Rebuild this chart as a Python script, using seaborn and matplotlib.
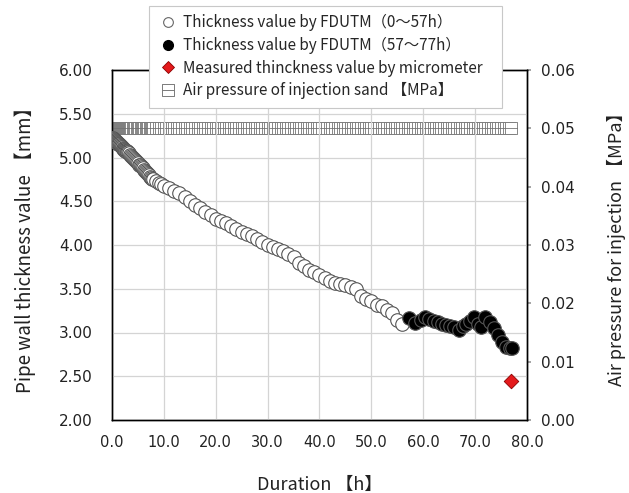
import numpy as np
import pandas as pd
import matplotlib
matplotlib.use("Agg")
import matplotlib.pyplot as plt
from matplotlib.path import Path
from matplotlib.lines import Line2D
import seaborn as sns

# ---------------- data ----------------
t_open = [0.0, 0.1, 0.2, 0.3, 0.4, 0.5, 0.6, 0.7, 0.8, 0.9, 1.0, 1.1, 1.2, 1.3, 1.4, 1.5,
          1.6, 1.7, 1.8, 1.9, 2.0, 2.1, 2.2, 2.3, 2.4, 2.5, 2.6, 2.7, 2.8, 2.9, 3.0,
          3.2, 3.4, 3.6, 3.8, 4.0, 4.2, 4.4, 4.6, 4.8, 5.0, 5.2, 5.4, 5.6, 5.8, 6.0,
          6.2, 6.4, 6.6, 6.8, 7.0, 7.2, 7.4, 7.6, 7.8, 8.0, 8.5, 9.0, 9.5,
          10.0, 11.0, 12.0, 13.0, 14.0, 15.0, 16.0, 17.0, 18.0, 19.0, 20.0, 21.0, 22.0,
          23.0, 24.0, 25.0, 26.0, 27.0, 28.0, 29.0, 30.0, 31.0, 32.0, 33.0, 34.0, 35.0,
          36.0, 37.0, 38.0, 39.0, 40.0, 41.0, 42.0, 43.0, 44.0, 45.0, 46.0, 47.0, 48.0,
          49.0, 50.0, 51.0, 52.0, 53.0, 54.0, 55.0, 56.0]
v_open = [5.22, 5.22, 5.21, 5.21, 5.20, 5.20, 5.19, 5.19, 5.18, 5.18, 5.17, 5.17, 5.16,
          5.16, 5.15, 5.14, 5.14, 5.13, 5.13, 5.12, 5.12, 5.11, 5.10, 5.10, 5.09, 5.09,
          5.08, 5.07, 5.07, 5.06, 5.06,
          5.05, 5.03, 5.02, 5.01, 5.00, 4.98, 4.97, 4.96, 4.95, 4.94, 4.92, 4.91, 4.90,
          4.89, 4.88, 4.86, 4.85, 4.84, 4.82, 4.81, 4.80, 4.78, 4.77, 4.76, 4.75,
          4.73, 4.71, 4.70,
          4.68, 4.65, 4.62, 4.59, 4.55, 4.50, 4.46, 4.42, 4.38, 4.34,
          4.30, 4.27, 4.25, 4.22, 4.18, 4.15, 4.13, 4.10, 4.07, 4.03, 4.00, 3.98, 3.96, 3.93,
          3.90, 3.86, 3.80, 3.76, 3.72, 3.69, 3.66, 3.62, 3.59, 3.57, 3.56, 3.54, 3.52, 3.50,
          3.42, 3.38, 3.36, 3.32, 3.30, 3.26, 3.22, 3.14, 3.10]

t_black = [57.3, 58.5, 59.5, 60.3, 61.2, 62.0, 62.8, 63.6, 64.4, 65.2, 66.0, 66.8, 67.6,
           68.3, 69.0, 69.8, 70.5, 71.2, 72.0, 72.8, 73.6, 74.4, 75.2, 76.0, 76.7, 77.2]
v_black = [3.17, 3.11, 3.14, 3.18, 3.15, 3.13, 3.12, 3.10, 3.09, 3.08, 3.06, 3.03, 3.08,
           3.10, 3.13, 3.18, 3.10, 3.06, 3.18, 3.12, 3.05, 2.97, 2.89, 2.84, 2.82, 2.82]

t_micro = [77.0]
v_micro = [2.45]

t_press = [0.0, 0.1, 0.2, 0.3, 0.4, 0.5, 0.55, 0.6, 0.65, 0.7, 0.75, 0.8, 0.85, 0.9, 0.95,
           1.0, 1.05, 1.1, 1.15, 1.2, 1.25, 1.3, 1.35, 1.4, 1.45, 1.5, 1.55, 1.6, 1.65,
           1.7, 1.75, 1.8, 1.85, 1.9, 1.95, 2.0, 2.05, 2.1, 2.15, 2.2, 2.25, 2.3, 2.35,
           2.4, 2.45, 2.5, 2.55, 2.6, 2.65, 2.7, 2.75, 2.8, 2.85, 2.9, 2.95, 3.0, 3.05,
           3.1, 3.15, 3.2, 3.25, 3.3, 3.35, 3.4, 3.45, 3.5,
           3.75, 4.0, 4.25, 4.5, 4.75, 5.0, 5.25, 5.5, 5.75, 6.0, 6.25,
           6.5, 6.75, 7.0, 7.25, 7.5, 7.75, 8.0, 8.5, 9.0, 9.5, 10.0, 10.5, 11.0, 11.5, 12.0,
           12.5, 13.0, 13.5, 14.0, 14.5, 15.0, 15.5, 16.0, 16.5, 17.0, 17.5, 18.0, 18.5, 19.0,
           19.5, 20.0, 20.5, 21.0, 21.5, 22.0, 22.5, 23.0, 23.5, 24.0, 24.5, 25.0, 25.5, 26.0,
           26.5, 27.0, 27.5, 28.0, 28.5, 29.0, 29.5, 30.0, 30.5, 31.0, 31.5, 32.0, 32.5, 33.0,
           33.5, 34.0, 34.5, 35.0, 35.5, 36.0, 36.5, 37.0, 37.5, 38.0, 38.5, 39.0, 39.5, 40.0,
           40.5, 41.0, 41.5, 42.0, 42.5, 43.0, 43.5, 44.0, 44.5, 45.0, 45.5, 46.0, 46.5, 47.0,
           47.5, 48.0, 48.5, 49.0, 49.5, 50.0, 50.5, 51.0, 51.5, 52.0, 52.5, 53.0, 53.5, 54.0,
           54.5, 55.0, 55.5, 56.0, 56.5, 57.0, 57.5, 58.0, 58.5, 59.0, 59.5, 60.0, 60.5, 61.0,
           61.5, 62.0, 62.5, 63.0, 63.5, 64.0, 64.5, 65.0, 65.5, 66.0, 66.5, 67.0, 67.5, 68.0,
           68.5, 69.0, 69.5, 70.0, 70.5, 71.0, 71.5, 72.0, 72.5, 73.0, 73.5, 74.0, 74.5, 75.0,
           75.5, 76.0, 76.5, 77.0]
p_value = 0.05
v_press = [p_value] * len(t_press)

x_ticks = [0, 10, 20, 30, 40, 50, 60, 70, 80]
y_ticks = [2.0, 2.5, 3.0, 3.5, 4.0, 4.5, 5.0, 5.5, 6.0]
y2_ticks = [0.0, 0.01, 0.02, 0.03, 0.04, 0.05, 0.06]

lab_open = "Thickness value by FDUTM（0～57h）"
lab_black = "Thickness value by FDUTM（57～77h）"
lab_micro = "Measured thinckness value by micrometer"
lab_press = "Air pressure of injection sand 【MPa】"

# ---------------- style ----------------
sns.set_theme(style="white")
plt.rcParams["font.family"] = ["Noto Sans CJK JP", "DejaVu Sans"]
plt.rcParams["axes.unicode_minus"] = False

df_open = pd.DataFrame({"t": t_open, "v": v_open})
df_black = pd.DataFrame({"t": t_black, "v": v_black})
df_micro = pd.DataFrame({"t": t_micro, "v": v_micro})
df_press = pd.DataFrame({"t": t_press, "p": v_press})

# square-with-bar marker
sq_path = Path([(-1, -1), (1, -1), (1, 1), (-1, 1), (-1, -1), (-1, 0), (1, 0)],
               [Path.MOVETO, Path.LINETO, Path.LINETO, Path.LINETO, Path.CLOSEPOLY,
                Path.MOVETO, Path.LINETO])

fig = plt.figure(figsize=(6.29, 4.93), dpi=100)
ax1 = fig.add_axes([112 / 629, 1 - 420 / 493, 415 / 629, 350 / 493])
ax2 = ax1.twinx()

# pressure (right axis)
sns.scatterplot(data=df_press, x="t", y="p", ax=ax2, marker=sq_path, s=85,
                facecolor="white", edgecolor="#747474", linewidth=0.6, legend=False,
                zorder=2)
ax2.set_ylim(0, 0.06)
ax2.set_yticks(y2_ticks)
ax2.set_yticklabels([f"{v:.2f}" for v in y2_ticks], family="DejaVu Sans")

# thickness (left axis)
sns.scatterplot(data=df_open, x="t", y="v", ax=ax1, marker="o", s=95,
                facecolor="white", edgecolor="#555555", linewidth=0.8, legend=False,
                zorder=3)
sns.scatterplot(data=df_black, x="t", y="v", ax=ax1, marker="o", s=95,
                facecolor="black", edgecolor="#555555", linewidth=0.8, legend=False,
                zorder=4)
sns.scatterplot(data=df_micro, x="t", y="v", ax=ax1, marker="D", s=55,
                facecolor="#e41a1c", edgecolor="#8a0000", linewidth=0.6, legend=False,
                zorder=5)

ax1.set_zorder(ax2.get_zorder() + 1)
ax1.patch.set_visible(False)

ax1.set_xlim(0, 80)
ax1.set_ylim(2, 6)
ax1.set_xticks(x_ticks)
ax1.set_xticklabels([f"{v:.1f}" for v in x_ticks], family="DejaVu Sans")
ax1.set_yticks(y_ticks)
ax1.set_yticklabels([f"{v:.2f}" for v in y_ticks], family="DejaVu Sans")
ax1.grid(True, color="#d4d4d4", linewidth=0.9)
ax1.set_axisbelow(True)

for ax in (ax1, ax2):
    for sp in ax.spines.values():
        sp.set_color("black")
        sp.set_linewidth(1.0)

ax1.tick_params(axis="y", length=0, labelsize=11, colors="#222222", pad=14)
ax1.tick_params(axis="x", length=0, labelsize=10.5, colors="#222222", pad=11)
ax2.tick_params(axis="y", length=3, color="#999999", direction="out", labelsize=11,
                colors="#222222", pad=7)

ax1.set_xlabel("Duration 【h】", fontsize=13, labelpad=18.5, color="#222222")
ax1.set_ylabel("Pipe wall thickness value 【mm】", fontsize=13.5, labelpad=16.5, color="#222222")
ax2.set_ylabel("Air pressure for injection 【MPa】", fontsize=13, labelpad=23, color="#222222")

handles = [
    Line2D([], [], linestyle="none", marker="o", markersize=7, markerfacecolor="white",
           markeredgecolor="#666666", markeredgewidth=0.8),
    Line2D([], [], linestyle="none", marker="o", markersize=7, markerfacecolor="black",
           markeredgecolor="black"),
    Line2D([], [], linestyle="none", marker="D", markersize=6, markerfacecolor="#e41a1c",
           markeredgecolor="#8a0000", markeredgewidth=0.6),
    Line2D([], [], linestyle="none", marker=sq_path, markersize=8, markerfacecolor="white",
           markeredgecolor="#7a7a7a", markeredgewidth=0.7),
]
leg = fig.legend(handles, [lab_open, lab_black, lab_micro, lab_press],
                 loc="upper left",
                 bbox_to_anchor=(149 / 629, 0, 353 / 629, 1 - 6 / 493),
                 mode="expand",
                 frameon=True, fancybox=False, fontsize=11, labelspacing=0.36,
                 handletextpad=0.3, handlelength=1.4, borderpad=0.55,
                 borderaxespad=0.0)
leg.get_frame().set_edgecolor("#c8c8c8")
leg.get_frame().set_linewidth(0.8)
leg.get_frame().set_facecolor("white")
leg.get_frame().set_alpha(1.0)
leg.set_zorder(20)

fig.savefig("out.png", dpi=100)
